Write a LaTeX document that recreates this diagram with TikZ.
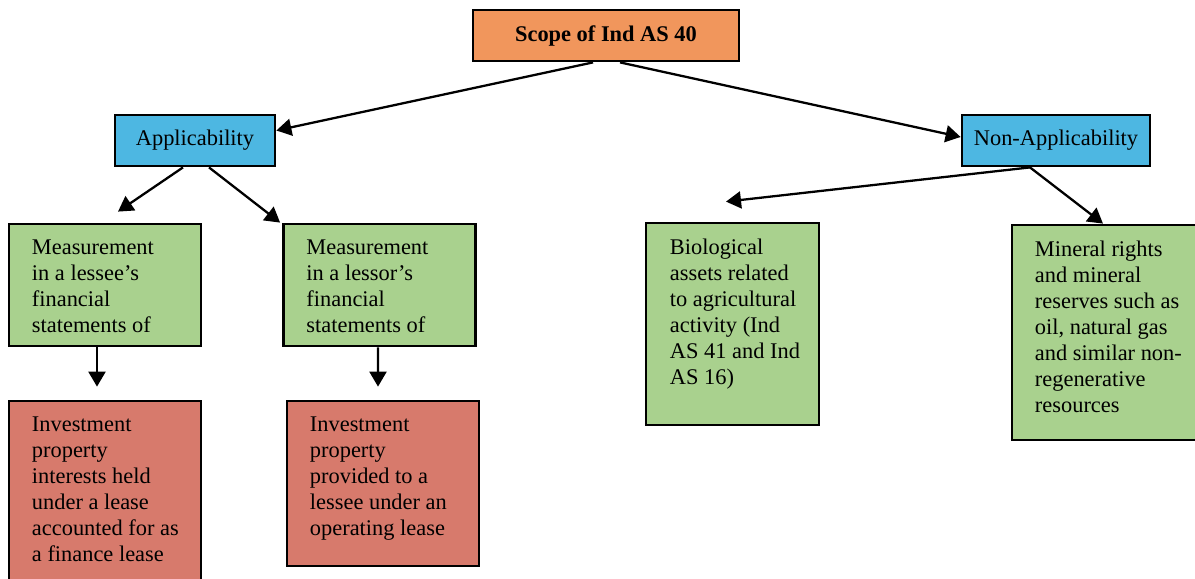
\documentclass[tikz,border=0pt]{standalone}
\usepackage{fontspec}
\setmainfont{Liberation Serif}
\usetikzlibrary{arrows.meta,positioning}
\definecolor{scopeorange}{RGB}{241,150,92}
\definecolor{headblue}{RGB}{77,183,226}
\definecolor{leafgreen}{RGB}{169,209,142}
\definecolor{leafred}{RGB}{215,122,108}
\newcommand{\bodyfont}{\fontsize{12.75}{14.8}\selectfont}
\tikzset{
  frame/.style={draw=black, line width=1.6pt, inner sep=0pt, font=\bodyfont},
  scopebox/.style={frame, fill=scopeorange, minimum width=5.32cm, minimum height=1.02cm, font=\bodyfont\bfseries},
  headbox/.style={frame, fill=headblue, minimum height=1.02cm},
  greenbox/.style={frame, fill=leafgreen},
  redbox/.style={frame, fill=leafred},
  boxtext/.style={anchor=north west, inner sep=0pt, align=left, font=\bodyfont},
  arr/.style={line width=1.3pt, -{Triangle[length=0.3cm,width=0.34cm]}}
}
\begin{document}
\begin{tikzpicture}[x=0.02cm, y=-0.02cm]
    \clip (0,0) rectangle (1195,578);
    % Radice
    \node[scopebox] (scope) at (606,35.5) {Scope of Ind AS 40};
    % Secondo livello
    \node[headbox, minimum width=3.2cm] (app) at (195,140.5) {Applicability};
    \node[headbox, minimum width=3.76cm] (nonapp) at (1056,140.5) {Non-Applicability};
    % Riquadri verdi
    \node[greenbox, minimum width=3.84cm, minimum height=2.44cm] (lessee) at (105,285) {};
    \node[greenbox, minimum width=3.84cm, minimum height=2.44cm] (lessor) at (379.5,285) {};
    \node[greenbox, minimum width=3.46cm, minimum height=4.04cm] (bio) at (732.5,324) {};
    \node[greenbox, minimum width=4.16cm, minimum height=4.3cm] (mineral) at (1116,332.5) {};
    % Riquadri rossi
    \node[redbox, minimum width=3.84cm, minimum height=3.96cm] (finlease) at (105,500) {};
    \node[redbox, minimum width=3.84cm, minimum height=3.3cm] (oplease) at (383,483.5) {};
    % Testi
    \node[boxtext] (lesseetxt) at ([shift={(0.48cm,-0.34cm)}]lessee.north west)
      {Measurement\\in a lessee’s\\financial\\statements of};
    \node[boxtext] (lessortxt) at ([shift={(0.48cm,-0.34cm)}]lessor.north west)
      {Measurement\\in a lessor’s\\financial\\statements of};
    \node[boxtext] (biotxt) at ([shift={(0.5cm,-0.34cm)}]bio.north west)
      {Biological\\assets related\\to agricultural\\activity (Ind\\AS 41 and Ind\\AS 16)};
    \node[boxtext] (mineraltxt) at ([shift={(0.48cm,-0.34cm)}]mineral.north west)
      {Mineral rights\\and mineral\\reserves such as\\oil, natural gas\\and similar non-\\regenerative\\resources};
    \node[boxtext] (finleasetxt) at ([shift={(0.48cm,-0.34cm)}]finlease.north west)
      {Investment\\property\\interests held\\under a lease\\accounted for as\\a finance lease};
    \node[boxtext] (opleasetxt) at ([shift={(0.48cm,-0.34cm)}]oplease.north west)
      {Investment\\property\\provided to a\\lessee under an\\operating lease};
    % Frecce
    \draw[arr] ([xshift=-0.26cm]scope.south) -- ([yshift=0.2cm]app.east);
    \draw[arr] ([xshift=0.28cm]scope.south) -- ([yshift=0.07cm]nonapp.west);
    \draw[arr] ([xshift=-0.24cm]app.south) -- ([xshift=0.26cm, yshift=0.22cm]lessee.north);
    \draw[arr] ([xshift=0.28cm]app.south) -- ([xshift=-0.04cm]lessor.north west);
    \draw[arr] ([xshift=-0.52cm]nonapp.south) -- ([xshift=-0.13cm, yshift=0.4cm]bio.north);
    \draw[arr] ([xshift=-0.52cm]nonapp.south) -- ([xshift=-0.26cm]mineral.north);
    \draw[arr] ([xshift=-0.16cm]lessee.south) -- ([xshift=-0.16cm, yshift=0.26cm]finlease.north);
    \draw[arr] ([xshift=-0.03cm]lessor.south) -- ([xshift=-0.1cm, yshift=0.26cm]oplease.north);
  \end{tikzpicture}
\end{document}
